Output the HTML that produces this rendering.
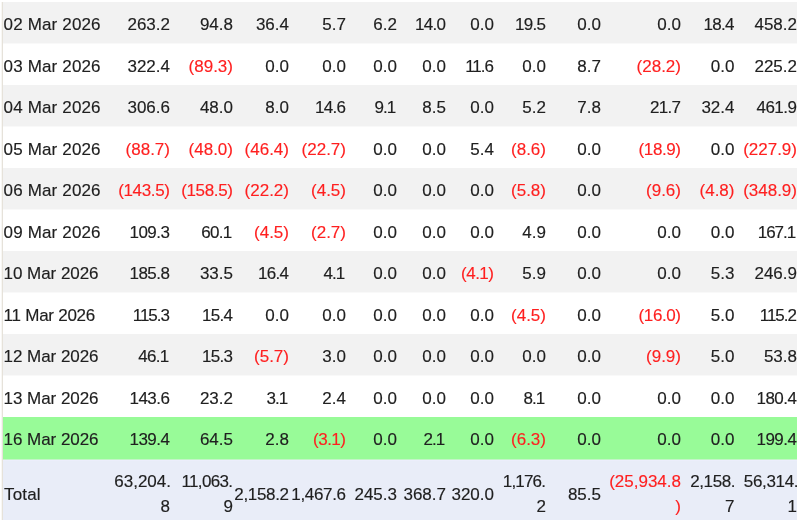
<!DOCTYPE html><html><head><meta charset="utf-8"><title>Table</title><style>
*{margin:0;padding:0;box-sizing:border-box}
html,body{width:800px;height:520px;overflow:hidden;background:#fff}
body{font-family:"Liberation Sans",Arial,sans-serif;font-size:17px;color:#202020;position:relative;-webkit-text-stroke:0.15px currentColor}
.vl{position:absolute;left:2px;top:2px;width:1px;height:518px;background:#e6e2da}
.vl2{position:absolute;left:1px;top:2px;width:1px;height:518px;background:#f8f7f4}
.bl{position:absolute;left:3px;width:794px;height:1px}
.r{position:absolute;left:3px;width:794px;}
.g{background:#f2f2f2}
.w{background:#fff}
.gr{background:#98fb98}
.t{background:#e9edf8}
.c{position:absolute;top:2px;white-space:nowrap;text-align:right}
.d{position:absolute;left:.6px;top:2px;white-space:nowrap;letter-spacing:.15px}
.n{color:#ff1f1f}
</style></head><body>
<div class="r g" style="top:2.0px;height:41.5px;line-height:41.5px">
<span class="d" style="letter-spacing:0.15px;">02 Mar 2026</span>
<span class="c" style="right:627.0px;">263.2</span>
<span class="c" style="right:564.0px;">94.8</span>
<span class="c" style="right:508.0px;">36.4</span>
<span class="c" style="right:451.0px;">5.7</span>
<span class="c" style="right:400.0px;">6.2</span>
<span class="c" style="right:351.67px;letter-spacing:-0.667px;">14.0</span>
<span class="c" style="right:303.0px;">0.0</span>
<span class="c" style="right:251.67px;letter-spacing:-0.667px;">19.5</span>
<span class="c" style="right:196.0px;">0.0</span>
<span class="c" style="right:116.0px;">0.0</span>
<span class="c" style="right:63.17px;letter-spacing:-0.667px;">18.4</span>
<span class="c" style="right:0.0px;">458.2</span>
</div>
<div class="r w" style="top:43.5px;height:41.5px;line-height:41.5px">
<span class="d" style="letter-spacing:0.15px;">03 Mar 2026</span>
<span class="c" style="right:627.0px;">322.4</span>
<span class="c n" style="right:564.0px;">(89.3)</span>
<span class="c" style="right:508.0px;">0.0</span>
<span class="c" style="right:451.0px;">0.0</span>
<span class="c" style="right:400.0px;">0.0</span>
<span class="c" style="right:351.0px;">0.0</span>
<span class="c" style="right:304.0px;letter-spacing:-1.0px;">11.6</span>
<span class="c" style="right:251.0px;">0.0</span>
<span class="c" style="right:196.0px;">8.7</span>
<span class="c n" style="right:116.0px;">(28.2)</span>
<span class="c" style="right:62.5px;">0.0</span>
<span class="c" style="right:0.0px;">225.2</span>
</div>
<div class="r g" style="top:85.0px;height:41.5px;line-height:41.5px">
<span class="d" style="letter-spacing:0.15px;">04 Mar 2026</span>
<span class="c" style="right:627.0px;">306.6</span>
<span class="c" style="right:564.0px;">48.0</span>
<span class="c" style="right:508.0px;">8.0</span>
<span class="c" style="right:451.67px;letter-spacing:-0.667px;">14.6</span>
<span class="c" style="right:401.75px;letter-spacing:-1.0px;">9.1</span>
<span class="c" style="right:351.0px;">8.5</span>
<span class="c" style="right:303.0px;">0.0</span>
<span class="c" style="right:251.0px;">5.2</span>
<span class="c" style="right:196.0px;">7.8</span>
<span class="c" style="right:116.67px;letter-spacing:-0.667px;">21.7</span>
<span class="c" style="right:62.5px;">32.4</span>
<span class="c" style="right:0.5px;letter-spacing:-0.5px;">461.9</span>
</div>
<div class="r w" style="top:126.5px;height:41.5px;line-height:41.5px">
<span class="d" style="letter-spacing:0.15px;">05 Mar 2026</span>
<span class="c n" style="right:627.0px;">(88.7)</span>
<span class="c n" style="right:564.0px;">(48.0)</span>
<span class="c n" style="right:508.0px;">(46.4)</span>
<span class="c n" style="right:451.0px;">(22.7)</span>
<span class="c" style="right:400.0px;">0.0</span>
<span class="c" style="right:351.0px;">0.0</span>
<span class="c" style="right:303.0px;">5.4</span>
<span class="c n" style="right:251.0px;">(8.6)</span>
<span class="c" style="right:196.0px;">0.0</span>
<span class="c n" style="right:116.4px;letter-spacing:-0.4px;">(18.9)</span>
<span class="c" style="right:62.5px;">0.0</span>
<span class="c n" style="right:0.0px;">(227.9)</span>
</div>
<div class="r g" style="top:168.0px;height:41.5px;line-height:41.5px">
<span class="d" style="letter-spacing:0.15px;">06 Mar 2026</span>
<span class="c n" style="right:627.33px;letter-spacing:-0.333px;">(143.5)</span>
<span class="c n" style="right:564.33px;letter-spacing:-0.333px;">(158.5)</span>
<span class="c n" style="right:508.0px;">(22.2)</span>
<span class="c n" style="right:451.0px;">(4.5)</span>
<span class="c" style="right:400.0px;">0.0</span>
<span class="c" style="right:351.0px;">0.0</span>
<span class="c" style="right:303.0px;">0.0</span>
<span class="c n" style="right:251.0px;">(5.8)</span>
<span class="c" style="right:196.0px;">0.0</span>
<span class="c n" style="right:116.0px;">(9.6)</span>
<span class="c n" style="right:62.5px;">(4.8)</span>
<span class="c n" style="right:0.0px;">(348.9)</span>
</div>
<div class="r w" style="top:209.5px;height:41.5px;line-height:41.5px">
<span class="d" style="letter-spacing:0.15px;">09 Mar 2026</span>
<span class="c" style="right:627.5px;letter-spacing:-0.5px;">109.3</span>
<span class="c" style="right:565.42px;letter-spacing:-0.667px;">60.1</span>
<span class="c n" style="right:508.0px;">(4.5)</span>
<span class="c n" style="right:451.0px;">(2.7)</span>
<span class="c" style="right:400.0px;">0.0</span>
<span class="c" style="right:351.0px;">0.0</span>
<span class="c" style="right:303.0px;">0.0</span>
<span class="c" style="right:251.0px;">4.9</span>
<span class="c" style="right:196.0px;">0.0</span>
<span class="c" style="right:116.0px;">0.0</span>
<span class="c" style="right:62.5px;">0.0</span>
<span class="c" style="right:1.75px;letter-spacing:-1.0px;">167.1</span>
</div>
<div class="r g" style="top:251.0px;height:41.5px;line-height:41.5px">
<span class="d" style="letter-spacing:-0.05px;">10 Mar 2026</span>
<span class="c" style="right:627.5px;letter-spacing:-0.5px;">185.8</span>
<span class="c" style="right:564.0px;">33.5</span>
<span class="c" style="right:508.67px;letter-spacing:-0.667px;">16.4</span>
<span class="c" style="right:452.75px;letter-spacing:-1.0px;">4.1</span>
<span class="c" style="right:400.0px;">0.0</span>
<span class="c" style="right:351.0px;">0.0</span>
<span class="c n" style="right:303.5px;letter-spacing:-0.5px;">(4.1)</span>
<span class="c" style="right:251.0px;">5.9</span>
<span class="c" style="right:196.0px;">0.0</span>
<span class="c" style="right:116.0px;">0.0</span>
<span class="c" style="right:62.5px;">5.3</span>
<span class="c" style="right:0.0px;">246.9</span>
</div>
<div class="r w" style="top:292.5px;height:41.5px;line-height:41.5px">
<span class="d" style="letter-spacing:-0.25px;">11 Mar 2026</span>
<span class="c" style="right:628.0px;letter-spacing:-1.0px;">115.3</span>
<span class="c" style="right:564.67px;letter-spacing:-0.667px;">15.4</span>
<span class="c" style="right:508.0px;">0.0</span>
<span class="c" style="right:451.0px;">0.0</span>
<span class="c" style="right:400.0px;">0.0</span>
<span class="c" style="right:351.0px;">0.0</span>
<span class="c" style="right:303.0px;">0.0</span>
<span class="c n" style="right:251.0px;">(4.5)</span>
<span class="c" style="right:196.0px;">0.0</span>
<span class="c n" style="right:116.4px;letter-spacing:-0.4px;">(16.0)</span>
<span class="c" style="right:62.5px;">5.0</span>
<span class="c" style="right:1.0px;letter-spacing:-1.0px;">115.2</span>
</div>
<div class="r g" style="top:334.0px;height:41.5px;line-height:41.5px">
<span class="d" style="letter-spacing:-0.05px;">12 Mar 2026</span>
<span class="c" style="right:628.42px;letter-spacing:-0.667px;">46.1</span>
<span class="c" style="right:564.67px;letter-spacing:-0.667px;">15.3</span>
<span class="c n" style="right:508.0px;">(5.7)</span>
<span class="c" style="right:451.0px;">3.0</span>
<span class="c" style="right:400.0px;">0.0</span>
<span class="c" style="right:351.0px;">0.0</span>
<span class="c" style="right:303.0px;">0.0</span>
<span class="c" style="right:251.0px;">0.0</span>
<span class="c" style="right:196.0px;">0.0</span>
<span class="c n" style="right:116.0px;">(9.9)</span>
<span class="c" style="right:62.5px;">5.0</span>
<span class="c" style="right:0.0px;">53.8</span>
</div>
<div class="r w" style="top:375.5px;height:41.5px;line-height:41.5px">
<span class="d" style="letter-spacing:-0.05px;">13 Mar 2026</span>
<span class="c" style="right:627.5px;letter-spacing:-0.5px;">143.6</span>
<span class="c" style="right:564.0px;">23.2</span>
<span class="c" style="right:509.75px;letter-spacing:-1.0px;">3.1</span>
<span class="c" style="right:451.0px;">2.4</span>
<span class="c" style="right:400.0px;">0.0</span>
<span class="c" style="right:351.0px;">0.0</span>
<span class="c" style="right:303.0px;">0.0</span>
<span class="c" style="right:252.75px;letter-spacing:-1.0px;">8.1</span>
<span class="c" style="right:196.0px;">0.0</span>
<span class="c" style="right:116.0px;">0.0</span>
<span class="c" style="right:62.5px;">0.0</span>
<span class="c" style="right:0.5px;letter-spacing:-0.5px;">180.4</span>
</div>
<div class="r gr" style="top:417.0px;height:41.5px;line-height:41.5px">
<span class="d" style="letter-spacing:-0.05px;">16 Mar 2026</span>
<span class="c" style="right:627.5px;letter-spacing:-0.5px;">139.4</span>
<span class="c" style="right:564.0px;">64.5</span>
<span class="c" style="right:508.0px;">2.8</span>
<span class="c n" style="right:451.5px;letter-spacing:-0.5px;">(3.1)</span>
<span class="c" style="right:400.0px;">0.0</span>
<span class="c" style="right:352.75px;letter-spacing:-1.0px;">2.1</span>
<span class="c" style="right:303.0px;">0.0</span>
<span class="c n" style="right:251.0px;">(6.3)</span>
<span class="c" style="right:196.0px;">0.0</span>
<span class="c" style="right:116.0px;">0.0</span>
<span class="c" style="right:62.5px;">0.0</span>
<span class="c" style="right:0.5px;letter-spacing:-0.5px;">199.4</span>
</div>
<div class="r t" style="top:460px;height:60px">
<span class="d" style="left:1px;top:21.5px;line-height:25px">Total</span>
<span class="c" style="right:626.0px;top:9.0px;line-height:25px;">63,204.</span>
<span class="c" style="right:627.0px;top:34.0px;line-height:25px;">8</span>
<span class="c" style="right:564.67px;top:9.0px;line-height:25px;letter-spacing:-0.667px;">11,063.</span>
<span class="c" style="right:564.0px;top:34.0px;line-height:25px;">9</span>
<span class="c" style="right:508.33px;top:21.5px;line-height:25px;letter-spacing:-0.333px;">2,158.2</span>
<span class="c" style="right:451.33px;top:21.5px;line-height:25px;letter-spacing:-0.333px;">1,467.6</span>
<span class="c" style="right:400.0px;top:21.5px;line-height:25px;">245.3</span>
<span class="c" style="right:351.0px;top:21.5px;line-height:25px;">368.7</span>
<span class="c" style="right:303.0px;top:21.5px;line-height:25px;">320.0</span>
<span class="c" style="right:251.8px;top:9.0px;line-height:25px;letter-spacing:-0.8px;">1,176.</span>
<span class="c" style="right:251.0px;top:34.0px;line-height:25px;">2</span>
<span class="c" style="right:196.0px;top:21.5px;line-height:25px;">85.5</span>
<span class="c n" style="right:116.0px;top:9.0px;line-height:25px;">(25,934.8</span>
<span class="c n" style="right:116.0px;top:34.0px;line-height:25px;">)</span>
<span class="c" style="right:61.9px;top:9.0px;line-height:25px;letter-spacing:-0.4px;">2,158.</span>
<span class="c" style="right:62.5px;top:34.0px;line-height:25px;">7</span>
<span class="c" style="right:-1.17px;top:9.0px;line-height:25px;letter-spacing:-0.333px;">56,314.</span>
<span class="c" style="right:0.0px;top:34.0px;line-height:25px;">1</span>
</div>
<div class="bl" style="top:459px;background:#c4f4c8"></div>
<div class="bl" style="top:460px;background:#eceefb"></div>
<div class="bl" style="top:43px;background:#f9f9f9"></div>
<div class="bl" style="top:126px;background:#f9f9f9"></div>
<div class="bl" style="top:209px;background:#f9f9f9"></div>
<div class="bl" style="top:292px;background:#f9f9f9"></div>
<div class="bl" style="top:375px;background:#f9f9f9"></div>
<div class="vl2"></div><div class="vl"></div>
</body></html>
